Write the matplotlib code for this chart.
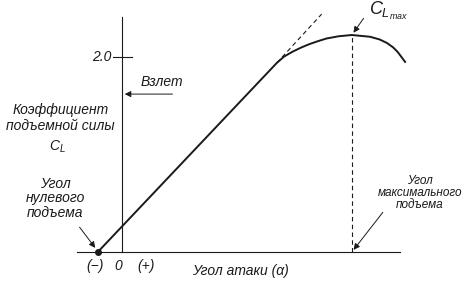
import matplotlib.pyplot as plt

# lift curve: angle of attack (deg) vs lift coefficient
alpha = [-2.0, 12.8, 13.4, 14.1, 14.8, 15.5, 16.2, 16.9, 17.9, 19.0,
         20.5, 21.3, 21.9, 22.4, 22.8, 23.4]
cl = [0.0, 1.94, 2.005, 2.055, 2.097, 2.133, 2.163, 2.19, 2.213, 2.226,
      2.208, 2.18, 2.144, 2.10, 2.05, 1.95]

alpha_zero = -2.0
alpha_max = 19.0
cl_max = 2.226
tangent_alpha = [12.8, 16.5]
tangent_cl = [1.94, 2.44]
takeoff_cl = 1.62

ink = "#1a1a1a"
plt.rcParams["font.family"] = ["Liberation Sans", "DejaVu Sans"]
plt.rcParams["mathtext.fontset"] = "custom"
plt.rcParams["mathtext.it"] = "Liberation Sans:italic"
plt.rcParams["mathtext.rm"] = "Liberation Sans"

fig = plt.figure(figsize=(4.69, 2.81), dpi=100)
ax = fig.add_axes([0, 0, 1, 1])
ax.set_xlim(-10.08, 28.68)
ax.set_ylim(-0.297, 2.585)
ax.axis("off")

# axes
ax.plot([-3.7, 23.0], [0, 0], color=ink, lw=0.8)
ax.plot([0, 0], [0, 2.41], color=ink, lw=0.8)
ax.plot([-0.75, 0.8], [2.0, 2.0], color=ink, lw=0.8)

# curve, tangent, stall line
ax.plot(alpha, cl, color=ink, lw=1.4, solid_joinstyle="round")
ax.plot(tangent_alpha, tangent_cl, color=ink, lw=0.8, ls=(0, (4, 3)))
ax.plot([alpha_max, alpha_max], [0, cl_max], color=ink, lw=0.8, ls=(0, (4, 3)))
ax.plot([alpha_zero], [0], "o", color=ink, ms=4)

tf = dict(style="italic", color=ink)
ap = dict(arrowstyle="-|>", color=ink, lw=0.7, mutation_scale=9)

ax.text(-0.9, 2.0, "2.0", ha="right", va="center", fontsize=10, **tf)
ax.text(1.5, 1.74, "Взлет", ha="left", va="center", fontsize=10, **tf)
ax.annotate("", xy=(0, takeoff_cl), xytext=(4.4, takeoff_cl), arrowprops=ap)

ax.text(-5.1, 1.456, "Коэффициент", ha="center", va="center", fontsize=10, **tf)
ax.text(-5.1, 1.29, "подъемной силы", ha="center", va="center", fontsize=10, **tf)
ax.text(-5.3, 1.08, "$C_L$", ha="center", va="center", fontsize=10, **tf)

ax.text(-5.5, 0.55, "Угол\nнулевого\nподъема", ha="center", va="center",
        fontsize=10, linespacing=1.05, **tf)
ax.annotate("", xy=(alpha_zero - 0.07, 0.02), xytext=(-3.64, 0.277), arrowprops=ap)

ax.text(-2.2, -0.144, "(−)", ha="center", va="center", fontsize=10, **tf)
ax.text(-0.33, -0.144, "0", ha="center", va="center", fontsize=10, **tf)
ax.text(2.0, -0.144, "(+)", ha="center", va="center", fontsize=10, **tf)
ax.text(9.75, -0.19, "Угол атаки (α)", ha="center", va="center", fontsize=10, **tf)

ax.text(20.4, 2.47, "$C_{L_{max}}$", ha="left", va="center", fontsize=13, **tf)
ax.annotate("", xy=(alpha_max, cl_max), xytext=(20.1, 2.42), arrowprops=ap)

ax.text(24.6, 0.605, "Угол\nмаксимального\nподъема", ha="center", va="center",
        fontsize=8.5, linespacing=1.0, **tf)
ax.annotate("", xy=(alpha_max, 0.0), xytext=(21.7, 0.43), arrowprops=ap)

fig.savefig("out.png", dpi=100)
